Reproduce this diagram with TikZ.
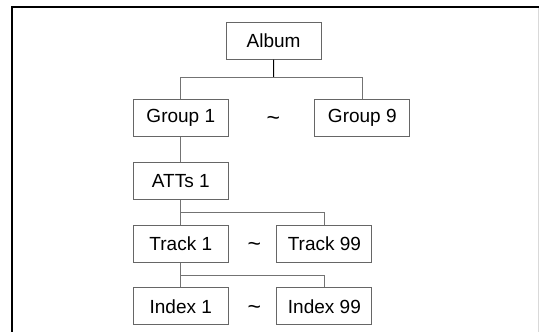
\documentclass[tikz,border=0pt]{standalone}
\usepackage{fontspec}
\setmainfont{Liberation Sans}
\usetikzlibrary{calc}
\tikzset{x=1pt, y=-1pt,
     tree box/.style={draw=black!60, line width=0.9pt, minimum width=95pt,
           minimum height=37pt, inner sep=0pt,
           font=\fontsize{19}{22}\selectfont},
     tree line/.style={draw=black!55, line width=0.9pt},
     gap mark/.style={font=\fontsize{23}{26}\selectfont, inner sep=0pt}
     }
\def\Gap#1#2{%
  \node[gap mark] (#1) at (#2) {\textasciitilde};
}

\begin{document}
\begin{tikzpicture}
\useasboundingbox (0,0) rectangle (539,332);
% frame
\draw[line width=2pt] (12,332) -- (12,7) -- (539,7);
\draw[black!15, line width=0.6pt] (538,8) -- (538,332);
% boxes
\node[tree box] (album)   at (273.6,40.7)  {Album};
\node[tree box] (group1)  at (180.8,118.1) {Group 1};
\node[tree box] (group9)  at (362.3,118.1) {Group 9};
\node[tree box] (atts1)   at (180.8,180.6) {ATTs 1};
\node[tree box] (track1)  at (180.8,243.6) {Track 1};
\node[tree box] (track99) at (324.4,243.6) {Track 99};
\node[tree box] (index1)  at (180.8,306.4) {Index 1};
\node[tree box] (index99) at (324.4,306.4) {Index 99};
\Gap{gap1}{273.3,121}
\Gap{gap2}{254.4,246.5}
\Gap{gap3}{254.4,309.5}
% connectors
\coordinate (fork1) at ($(album.south)!0.46!(album.south |- group1.north)$);
\coordinate (fork2) at ($(atts1.south)!0.5!(track1.north)$);
\coordinate (fork3) at ($(track1.south)!0.5!(index1.north)$);
\draw[line width=1.1pt] (album.south) -- (fork1);
\draw[tree line] (group1.north) |- (fork1) -| (group9.north);
\draw[tree line] (group1.south) -- (atts1.north);
\draw[tree line] (atts1.south) -- (track1.north);
\draw[tree line] (fork2) -| (track99.north);
\draw[tree line] (track1.south) -- (index1.north);
\draw[tree line] (fork3) -| (index99.north);
\end{tikzpicture}
\end{document}
